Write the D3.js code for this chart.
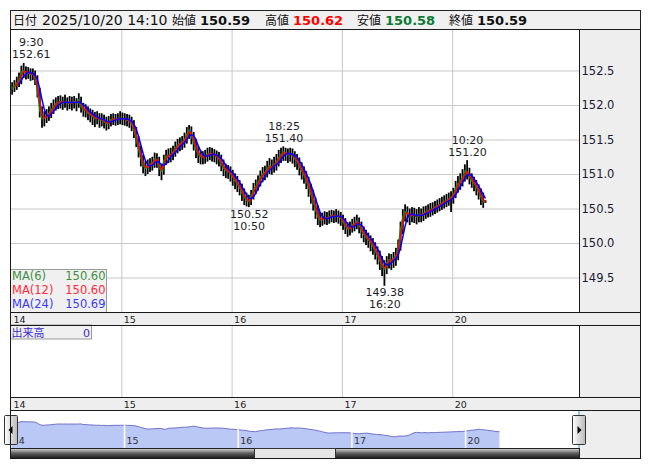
<!DOCTYPE html>
<html><head><meta charset="utf-8">
<script src="https://cdn.jsdelivr.net/npm/d3@7"></script>
<style>body{margin:0;background:#fff}svg{display:block}</style>
</head><body><svg id="c" width="653" height="470"></svg>
<script>
// ---------------- data ----------------
const dayLabels = ['14','15','16','17','20'];
const barMinutes = 30;
const sessionStartHour = 7;
const opens = [
152.22,152.25,152.28,152.32,152.36,152.48,152.50,152.46,152.47,152.44,152.45,152.38,152.20,151.92,151.80,151.82,151.85,151.88,151.93,151.98,152.02,152.04,152.05,152.03,152.05,152.02,152.04,152.03,152.05,152.02,152.08,151.98,151.93,151.92,151.88,151.86,151.83,151.80,151.82,151.78,151.79,151.76,151.73,151.75,151.79,151.80,151.79,151.80,
151.81,151.80,151.79,151.78,151.77,151.72,151.62,151.50,151.35,151.22,151.12,151.08,151.12,151.14,151.16,151.22,151.20,151.08,151.04,151.20,151.26,151.27,151.28,151.32,151.38,151.42,151.44,151.46,151.50,151.58,151.64,151.55,151.45,151.35,151.28,151.25,151.24,151.26,151.29,151.30,151.28,151.27,151.25,151.22,151.15,151.08,151.05,151.04,
151.00,150.95,150.90,150.85,150.80,150.72,150.66,150.62,150.60,150.68,150.78,150.82,150.88,150.95,151.00,151.02,151.08,151.12,151.10,151.14,151.18,151.24,151.28,151.32,151.30,151.27,151.30,151.26,151.22,151.18,151.10,151.04,150.98,150.90,150.80,150.70,150.60,150.48,150.38,150.33,150.35,150.37,150.36,150.38,150.40,150.39,150.40,150.38,
150.36,150.30,150.24,150.20,150.22,150.26,150.28,150.32,150.25,150.18,150.12,150.08,150.05,150.00,149.95,149.88,149.82,149.74,149.65,149.62,149.72,149.76,149.74,149.78,149.82,149.95,150.20,150.38,150.46,150.42,150.38,150.42,150.40,150.38,150.42,150.40,150.43,150.45,150.47,150.48,150.50,150.52,150.54,150.56,150.58,150.60,150.62,150.64,
150.66,150.70,150.80,150.86,150.90,150.95,151.05,151.02,150.95,150.90,150.86,150.80,150.74,150.66,150.60];
const highs = [
152.33,152.36,152.41,152.47,152.57,152.61,152.56,152.55,152.53,152.53,152.50,152.43,152.25,151.98,151.91,151.94,151.98,152.03,152.08,152.11,152.13,152.14,152.12,152.15,152.11,152.13,152.12,152.13,152.10,152.17,152.12,152.03,152.01,151.98,151.95,151.93,151.90,151.91,151.88,151.88,151.86,151.83,151.84,151.87,151.88,151.87,151.88,151.91,
151.89,151.88,151.87,151.86,151.83,151.78,151.68,151.55,151.41,151.28,151.19,151.21,151.23,151.25,151.31,151.30,151.25,151.15,151.28,151.35,151.37,151.38,151.41,151.47,151.51,151.53,151.55,151.60,151.68,151.71,151.69,151.61,151.51,151.41,151.35,151.33,151.35,151.38,151.39,151.38,151.36,151.34,151.32,151.28,151.21,151.15,151.13,151.11,
151.06,151.01,150.97,150.91,150.86,150.79,150.73,150.70,150.77,150.87,150.92,150.98,151.05,151.10,151.12,151.19,151.23,151.21,151.25,151.29,151.35,151.38,151.40,151.38,151.37,151.38,151.37,151.33,151.29,151.24,151.17,151.11,151.04,150.96,150.86,150.77,150.66,150.55,150.45,150.44,150.46,150.45,150.47,150.48,150.47,150.49,150.47,150.45,
150.41,150.36,150.30,150.31,150.35,150.38,150.41,150.37,150.31,150.24,150.19,150.15,150.11,150.07,150.01,149.95,149.89,149.81,149.75,149.81,149.85,149.84,149.87,149.93,150.05,150.31,150.49,150.56,150.53,150.50,150.52,150.51,150.49,150.52,150.50,150.53,150.54,150.56,150.58,150.59,150.61,150.63,150.65,150.67,150.69,150.71,150.73,150.75,
150.80,150.90,150.97,151.01,151.07,151.14,151.20,151.09,151.01,150.96,150.91,150.85,150.79,150.73,150.62];
const lows = [
152.15,152.19,152.22,152.26,152.30,152.39,152.37,152.38,152.35,152.36,152.29,152.11,151.82,151.67,151.69,151.74,151.77,151.81,151.87,151.92,151.94,151.95,151.93,151.96,151.92,151.94,151.92,151.95,151.91,151.96,151.89,151.83,151.82,151.78,151.75,151.71,151.68,151.72,151.67,151.69,151.66,151.63,151.65,151.69,151.71,151.70,151.71,151.72,
151.71,151.70,151.69,151.67,151.62,151.52,151.39,151.24,151.11,151.01,150.97,151.00,151.03,151.05,151.09,151.09,150.97,150.91,150.99,151.13,151.16,151.17,151.20,151.25,151.30,151.33,151.35,151.38,151.44,151.51,151.43,151.34,151.23,151.16,151.14,151.14,151.15,151.18,151.20,151.18,151.17,151.14,151.11,151.04,150.97,150.94,150.93,150.89,
150.83,150.78,150.74,150.69,150.61,150.55,150.53,150.52,150.55,150.63,150.71,150.76,150.82,150.88,150.91,150.95,151.00,150.99,151.02,151.05,151.11,151.16,151.19,151.19,151.16,151.18,151.15,151.10,151.06,150.98,150.92,150.86,150.78,150.67,150.57,150.47,150.35,150.26,150.23,150.25,150.27,150.26,150.28,150.30,150.29,150.30,150.28,150.25,
150.19,150.13,150.09,150.11,150.15,150.17,150.20,150.14,150.07,150.01,149.97,149.93,149.88,149.83,149.76,149.69,149.61,149.52,149.38,149.55,149.63,149.61,149.64,149.67,149.75,149.89,150.13,150.31,150.30,150.26,150.30,150.29,150.27,150.30,150.30,150.32,150.35,150.37,150.38,150.40,150.42,150.44,150.46,150.48,150.50,150.52,150.54,150.45,
150.57,150.65,150.73,150.77,150.82,150.89,150.92,150.85,150.80,150.75,150.69,150.63,150.55,150.51,150.58];
const closes = [
152.25,152.28,152.32,152.36,152.48,152.50,152.46,152.47,152.44,152.45,152.38,152.20,151.92,151.80,151.82,151.85,151.88,151.93,151.98,152.02,152.04,152.05,152.03,152.05,152.02,152.04,152.03,152.05,152.02,152.08,151.98,151.93,151.92,151.88,151.86,151.83,151.80,151.82,151.78,151.79,151.76,151.73,151.75,151.79,151.80,151.79,151.80,151.81,
151.80,151.79,151.78,151.77,151.72,151.62,151.50,151.35,151.22,151.12,151.08,151.12,151.14,151.16,151.22,151.20,151.08,151.04,151.20,151.26,151.27,151.28,151.32,151.38,151.42,151.44,151.46,151.50,151.58,151.64,151.55,151.45,151.35,151.28,151.25,151.24,151.26,151.29,151.30,151.28,151.27,151.25,151.22,151.15,151.08,151.05,151.04,151.00,
150.95,150.90,150.85,150.80,150.72,150.66,150.62,150.60,150.68,150.78,150.82,150.88,150.95,151.00,151.02,151.08,151.12,151.10,151.14,151.18,151.24,151.28,151.32,151.30,151.27,151.30,151.26,151.22,151.18,151.10,151.04,150.98,150.90,150.80,150.70,150.60,150.48,150.38,150.33,150.35,150.37,150.36,150.38,150.40,150.39,150.40,150.38,150.36,
150.30,150.24,150.20,150.22,150.26,150.28,150.32,150.25,150.18,150.12,150.08,150.05,150.00,149.95,149.88,149.82,149.74,149.65,149.62,149.72,149.76,149.74,149.78,149.82,149.95,150.20,150.38,150.46,150.42,150.38,150.42,150.40,150.38,150.42,150.40,150.43,150.45,150.47,150.48,150.50,150.52,150.54,150.56,150.58,150.60,150.62,150.64,150.66,
150.70,150.80,150.86,150.90,150.95,151.05,151.02,150.95,150.90,150.86,150.80,150.74,150.66,150.60,150.59];
const yTicks = [149.5, 150.0, 150.5, 151.0, 151.5, 152.0, 152.5];
const maPeriods = [6, 12, 24];
const maLegendNames = ['MA(6)', 'MA(12)', 'MA(24)'];
const maLegendValues = ['150.60', '150.60', '150.69'];
const headerLabels = ['日付', '始値', '高値', '安値', '終値'];
const headerValues = ['2025/10/20 14:10', '150.59', '150.62', '150.58', '150.59'];
const markerDays = [0, 2, 2, 3, 4];
const markerTimes = ['9:30', '18:25', '10:50', '16:20', '10:20'];
const markerPrices = [152.61, 151.40, 150.52, 149.38, 151.20];
const markerKinds = ['high', 'high', 'low', 'low', 'high'];
const volumeLabel = '出来高';
const volumeValue = '0';

// ---------------- styles / layout ----------------
const maColors = ['#0a8a0a', '#ff0000', '#0000ff'];
const maTextColors = ['#3f8f3f', '#ff2a3a', '#3a3aff'];
const NUM = "'DejaVu Sans', Verdana, sans-serif";
const JP = "'Noto Sans CJK JP', 'DejaVu Sans', sans-serif";
const L = 10.5, PR = 579.5, R = 640.5;
const headT = 10.5, headB = 29.5, mainB = 312.5, band1B = 325.5, volB = 397.5, band2B = 410.5, navB = 448.5, sbB = 458.5;
const grid = '#c8c8c8', panel = '#eeeeee';

const svg = d3.select('#c');
const defs = svg.append('defs');
defs.append('clipPath').attr('id', 'plotClip').append('rect').attr('x', L + 0.5).attr('y', headB + 0.5).attr('width', PR - L - 1).attr('height', mainB - headB - 1);
defs.append('clipPath').attr('id', 'navClip').append('rect').attr('x', L).attr('y', band2B).attr('width', PR - L).attr('height', navB - band2B);
const g1 = defs.append('linearGradient').attr('id', 'sbDark').attr('x1', 0).attr('y1', 0).attr('x2', 0).attr('y2', 1);
g1.append('stop').attr('offset', 0).attr('stop-color', '#d8d8d8');
g1.append('stop').attr('offset', 0.5).attr('stop-color', '#5a5a5a');
g1.append('stop').attr('offset', 1).attr('stop-color', '#1a1a1a');
const g2 = defs.append('linearGradient').attr('id', 'btn').attr('x1', 0).attr('y1', 0).attr('x2', 1).attr('y2', 0);
g2.append('stop').attr('offset', 0).attr('stop-color', '#ffffff');
g2.append('stop').attr('offset', 1).attr('stop-color', '#b8b8b8');

// ---------------- scales ----------------
const hoursTotal = dayLabels.length * 24;
const x = d3.scaleLinear().domain([0, hoursTotal]).range([11, 11 + 110.3 * dayLabels.length]);
const y = d3.scaleLinear().domain([149.5, 152.5]).range([277.5, 70.5]);
const xn = d3.scaleLinear().domain([0, hoursTotal]).range([10.3, 10.3 + 113.7 * dayLabels.length]);
const yn = d3.scaleLinear().domain([147.5, 154.7]).range([448, 410]);
const barH = barMinutes / 60;
const bars = closes.map((c, i) => ({ i, t: i * barH + barH / 2, o: opens[i], h: highs[i], l: lows[i], c }));
const dayTicks = dayLabels.map((d, k) => k * 24);

// ---------------- backgrounds ----------------
svg.append('rect').attr('x', 0).attr('y', 0).attr('width', 653).attr('height', 470).attr('fill', '#fff');
svg.append('rect').attr('x', L).attr('y', headT).attr('width', R - L).attr('height', headB - headT).attr('fill', '#f0f0f0').attr('stroke', '#222');
svg.append('rect').attr('x', PR).attr('y', headB).attr('width', R - PR).attr('height', sbB - headB).attr('fill', panel);
svg.append('rect').attr('x', L).attr('y', mainB).attr('width', R - L).attr('height', band1B - mainB).attr('fill', panel);
svg.append('rect').attr('x', L).attr('y', volB).attr('width', R - L).attr('height', band2B - volB).attr('fill', panel);

// ---------------- grids ----------------
const gridG = svg.append('g');
gridG.append('g').attr('transform', `translate(${PR},0)`)
  .call(d3.axisLeft(y).tickValues(yTicks).tickSize(PR - L).tickFormat(''))
  .call(s => { s.select('.domain').remove(); s.selectAll('line').attr('stroke', grid); });
[[headB, mainB], [band1B, volB]].forEach(([a, b]) => {
  gridG.append('g').attr('transform', `translate(0,${b})`)
    .call(d3.axisTop(x).tickValues(dayTicks.slice(1)).tickSize(b - a).tickFormat(''))
    .call(s => { s.select('.domain').remove(); s.selectAll('line').attr('stroke', grid); });
});

// ---------------- candles ----------------
const plot = svg.append('g').attr('clip-path', 'url(#plotClip)');
const cg = plot.append('g');
cg.selectAll('rect.w').data(bars).join('rect')
  .attr('x', d => x(d.t) - 0.9).attr('width', 1.8)
  .attr('y', d => y(d.h)).attr('height', d => y(d.l) - y(d.h)).attr('fill', '#000');
cg.selectAll('rect.b').data(bars).join('rect')
  .attr('x', d => x(d.t) - 0.6).attr('width', 1.2)
  .attr('y', d => y(Math.max(d.o, d.c)))
  .attr('height', d => Math.max(1, Math.abs(y(d.o) - y(d.c))))
  .attr('fill', d => d.c >= d.o ? '#006e00' : '#0000cc');

// ---------------- moving averages ----------------
maPeriods.forEach((p, k) => {
  const w = Math.max(1, Math.round(p * 5 / barMinutes));
  const pts = bars.slice(w - 1).map(b => ({ t: b.t, v: d3.mean(closes.slice(b.i - w + 1, b.i + 1)) }));
  plot.append('path').datum(pts)
    .attr('d', d3.line().x(d => x(d.t)).y(d => y(d.v)))
    .attr('fill', 'none').attr('stroke', maColors[k]).attr('stroke-width', k === 0 ? 1.2 : 1.5)
    .attr('stroke-linejoin', 'round');
});

// ---------------- high / low markers ----------------
const mg = svg.append('g').attr('font-family', NUM).attr('font-size', 11).attr('fill', '#1e1e2a');
markerTimes.forEach((tm, k) => {
  const [hh, mm] = tm.split(':').map(Number);
  const t = markerDays[k] * 24 + hh + mm / 60 - sessionStartHour;
  const cx = x(t), py = y(markerPrices[k]);
  const lines = markerKinds[k] === 'high'
    ? [[tm, py - 16.5], [markerPrices[k].toFixed(2), py - 4.5]]
    : [[markerPrices[k].toFixed(2), py + 10.5], [tm, py + 22.5]];
  const grp = mg.append('g');
  lines.forEach(([s, yy]) => grp.append('text').attr('x', cx).attr('y', yy).attr('text-anchor', 'middle').text(s));
  const bb = grp.node().getBBox();
  if (bb.x < L + 1.5) grp.attr('transform', `translate(${L + 1.5 - bb.x},0)`);
});

// ---------------- y axis labels ----------------
svg.append('g').attr('transform', `translate(${PR + 2},0)`)
  .call(d3.axisRight(y).tickValues(yTicks).tickSize(0).tickPadding(0).tickFormat(d3.format('.1f')))
  .call(s => { s.select('.domain').remove(); s.selectAll('text').attr('font-family', NUM).attr('font-size', 11.5).attr('fill', '#1a1a33'); });

// ---------------- x axis bands ----------------
[band1B, band2B].forEach(b => {
  svg.append('g').attr('transform', `translate(0,${b})`)
    .call(d3.axisTop(x).tickValues(dayTicks).tickSize(0).tickPadding(0).tickFormat((d, i) => dayLabels[i]))
    .call(s => { s.select('.domain').remove();
      s.selectAll('text').attr('text-anchor', 'start').attr('dx', 2).attr('dy', -3)
       .attr('font-family', NUM).attr('font-size', 9.5).attr('fill', '#222'); });
});

// ---------------- MA legend ----------------
const lg = svg.append('g');
lg.append('rect').attr('x', L).attr('y', 269.5).attr('width', 96).attr('height', mainB - 269.5).attr('fill', '#f0f0f0').attr('stroke', '#9a9a9a');
maLegendNames.forEach((n, k) => {
  lg.append('text').attr('x', 12).attr('y', 279.5 + k * 14).attr('font-family', NUM).attr('font-size', 11.5).attr('fill', maTextColors[k]).text(n);
  lg.append('text').attr('x', 105.5).attr('y', 279.5 + k * 14).attr('text-anchor', 'end').attr('font-family', NUM).attr('font-size', 11.5).attr('fill', maTextColors[k]).text(maLegendValues[k]);
});

// ---------------- volume legend ----------------
const vg = svg.append('g');
vg.append('rect').attr('x', L).attr('y', 325).attr('width', 81).attr('height', 14).attr('fill', '#f0f0f0').attr('stroke', '#9a9a9a');
vg.append('text').attr('x', 11.5).attr('y', 336.5).attr('font-family', JP).attr('font-size', 11).attr('fill', '#3a2ad0').text(volumeLabel);
vg.append('text').attr('x', 90).attr('y', 336.5).attr('text-anchor', 'end').attr('font-family', NUM).attr('font-size', 11).attr('fill', '#3a2ad0').text(volumeValue);

// ---------------- navigator ----------------
const ng = svg.append('g').attr('clip-path', 'url(#navClip)');
ng.append('path').datum(bars)
  .attr('d', d3.area().x(d => xn(d.t)).y0(navB).y1(d => yn(d.c)))
  .attr('fill', '#bac8f6');
ng.append('path').datum(bars)
  .attr('d', d3.line().x(d => xn(d.t)).y(d => yn(d.c)))
  .attr('fill', 'none').attr('stroke', '#6f6fc8').attr('stroke-width', 1);
ng.append('g').attr('transform', `translate(0,${navB})`)
  .call(d3.axisTop(xn).tickValues(dayTicks.slice(1)).tickSize(24).tickFormat(''))
  .call(s => { s.select('.domain').remove(); s.selectAll('line').attr('stroke', '#fff').attr('stroke-width', 1.5); });
ng.append('g').attr('transform', `translate(0,${navB})`)
  .call(d3.axisTop(xn).tickValues(dayTicks).tickSize(0).tickPadding(0).tickFormat((d, i) => dayLabels[i]))
  .call(s => { s.select('.domain').remove();
    s.selectAll('text').attr('text-anchor', 'start').attr('dx', 2).attr('dy', -5)
     .attr('font-family', NUM).attr('font-size', 9.5).attr('fill', '#333'); });
svg.append('line').attr('x1', L).attr('x2', L).attr('y1', band2B).attr('y2', navB).attr('stroke', '#2a9fd8');
svg.append('line').attr('x1', PR - 0.5).attr('x2', PR - 0.5).attr('y1', band2B).attr('y2', navB).attr('stroke', '#2a9fd8');

// scrollbar
svg.append('rect').attr('x', L).attr('y', navB).attr('width', PR - L).attr('height', sbB - navB).attr('fill', 'url(#sbDark)').attr('stroke', '#222');
svg.append('rect').attr('x', 254.5).attr('y', navB).attr('width', 81).attr('height', sbB - navB).attr('fill', '#e6e6e6').attr('stroke', '#333');

// buttons
[[4.5, 'left'], [572.5, 'right']].forEach(([bx, dir]) => {
  svg.append('rect').attr('x', bx).attr('y', 415.5).attr('width', 13).attr('height', 29).attr('rx', 1).attr('fill', 'url(#btn)').attr('stroke', '#333');
  const cx = bx + 6.5, cy = 430;
  const pts = dir === 'left' ? [[cx - 2.5, cy], [cx + 1.5, cy - 4], [cx + 1.5, cy + 4]] : [[cx + 2.5, cy], [cx - 1.5, cy - 4], [cx - 1.5, cy + 4]];
  svg.append('path').attr('d', d3.line()(pts) + 'Z').attr('fill', '#000');
});

// ---------------- frames ----------------
const fr = svg.append('g').attr('fill', 'none').attr('stroke', '#1a1a1a');
fr.append('rect').attr('x', L).attr('y', headB).attr('width', R - L).attr('height', sbB - headB);
fr.append('line').attr('x1', PR).attr('x2', PR).attr('y1', headB).attr('y2', mainB);
fr.append('line').attr('x1', PR).attr('x2', PR).attr('y1', band1B).attr('y2', volB);
[mainB, band1B, volB, band2B].forEach(yy => fr.append('line').attr('x1', L).attr('x2', R).attr('y1', yy).attr('y2', yy));

// ---------------- header ----------------
const hx = [13, 172, 265, 357, 449];
const vx = [42, 200, 293, 385, 477];
const vColors = ['#111', '#111', '#f00', '#0a7a35', '#111'];
headerLabels.forEach((lab, k) => {
  svg.append('text').attr('x', hx[k]).attr('y', 25).attr('font-family', JP).attr('font-size', 12).attr('fill', '#111').text(lab);
  svg.append('text').attr('x', vx[k]).attr('y', 25).attr('font-family', NUM).attr('font-size', k === 0 ? 14 : 13)
    .attr('font-weight', k === 0 ? 'normal' : 'bold').attr('fill', vColors[k]).text(headerValues[k]);
});
</script></body></html>
